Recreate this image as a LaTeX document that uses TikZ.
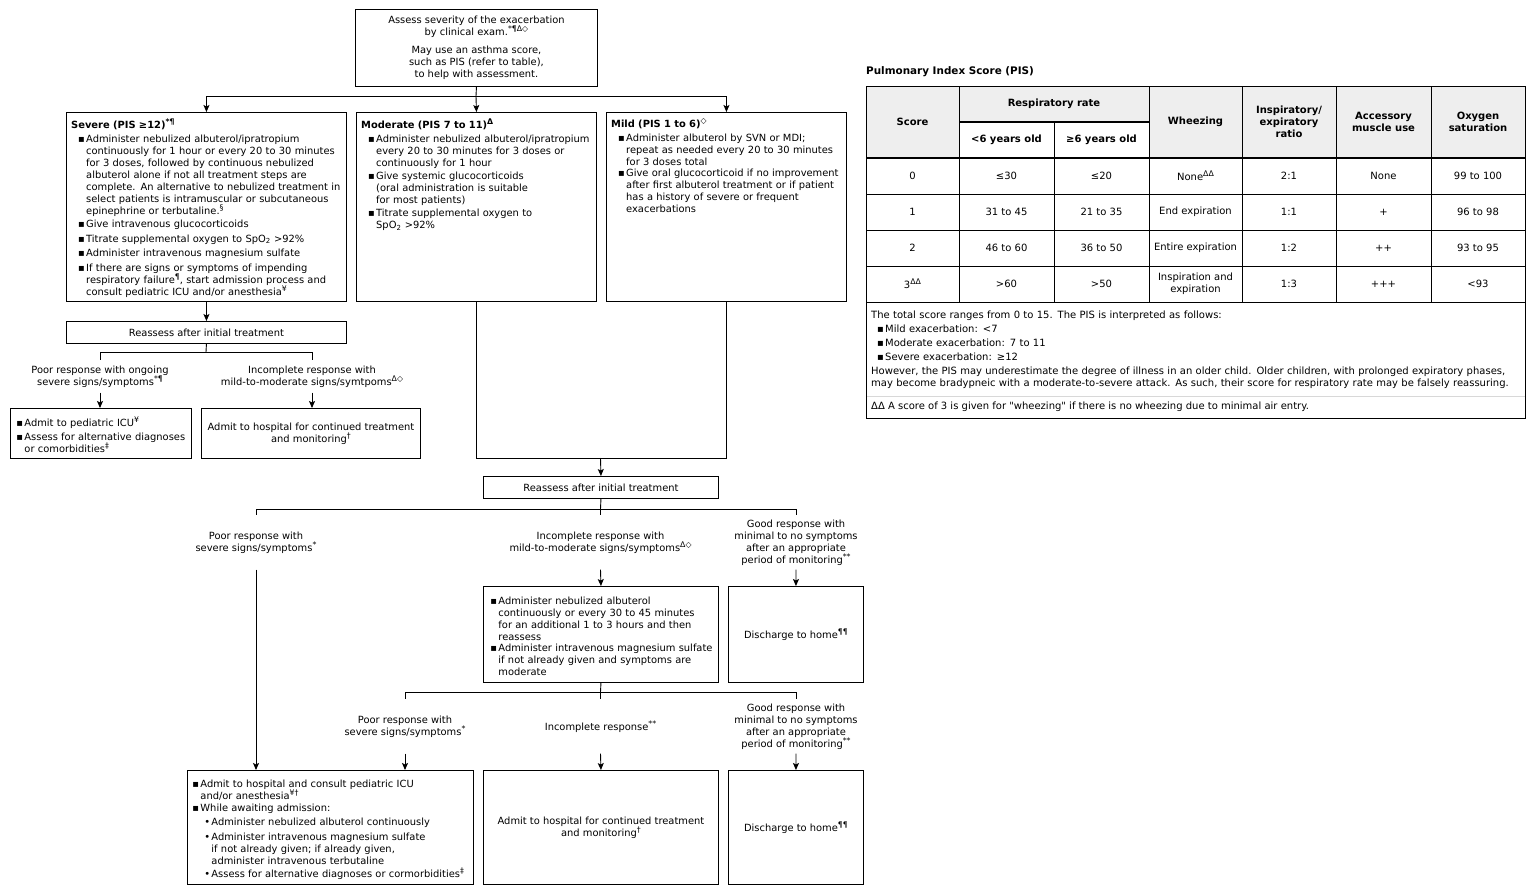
\documentclass[tikz,border=0pt]{standalone}
\usepackage{fontspec}
\setmainfont{DejaVu Sans}[Ligatures=TeXOff]
\usetikzlibrary{arrows.meta}
\newcommand{\sps}[1]{\raisebox{0.4em}{\fontsize{7.8}{7.8}\selectfont #1}}
\newcommand{\fs}{\fontsize{9.9}{12}\selectfont}
\newcommand{\ft}{\fontsize{10}{12}\selectfont}
\newcommand{\ftb}{\fontsize{10}{12}\selectfont\bfseries}
\newlength{\itgap}\setlength{\itgap}{2.5pt}
\newcommand{\bsq}{▪}
\newcommand{\bi}[2][0pt]{\par\noindent\hspace*{#1}\makebox[8pt][l]{\bsq}\parbox[t]{\dimexpr\linewidth-#1-8pt\relax}{\raggedright #2}\par\vspace{\itgap}}
\newcommand{\si}[1]{\par\noindent\hspace*{12pt}\makebox[7pt][l]{•}\parbox[t]{\dimexpr\linewidth-19pt\relax}{\raggedright #1}\par\vspace{\itgap}}
\definecolor{hdr}{HTML}{EEEEEE}
\definecolor{sep}{HTML}{D8D8D8}
\begin{document}
\begin{tikzpicture}[x=1pt,y=-1pt,
  every node/.style={font=\fs},
  bx/.style={draw, line width=0.9pt, inner sep=0pt},
  cbox/.style={bx, align=center, anchor=north west},
  lbox/.style={bx, inner xsep=6pt, align=left, anchor=north west},
  ebox/.style={bx, anchor=north west},
  txt/.style={inner sep=0pt, anchor=north west, align=left},
  lbl/.style={align=center, inner sep=0pt},
  ln/.style={line width=0.9pt},
  arr/.style={ln, -{Stealth[length=7pt,width=6pt,inset=1.5pt]}},
  cell/.style={inner sep=0pt, align=center, font=\ft},
  hcell/.style={inner sep=0pt, align=center, font=\ftb}]
\fill[white] (0,0) rectangle (1536,895);
\useasboundingbox (0,0) rectangle (1536,895);

% ---------- top box ----------
\node[cbox, minimum width=242pt, minimum height=77pt] (top) at (355,9)
 {Assess severity of the exacerbation\\by clinical exam.\sps{*¶Δ◇}\\[6pt]May use an asthma score,\\such as PIS (refer to table),\\to help with assessment.};

% ---------- severity boxes ----------
\node[ebox, minimum width=280pt, minimum height=189pt] (sev) at (66,112) {};
\node[txt, text width=272pt] (sevt) at (71,118.5) {\textbf{Severe (PIS ≥12)\sps{*¶}}\par\vspace{2pt}
\bi[7pt]{Administer nebulized albuterol/ipratropium\\continuously for 1 hour or every 20 to 30 minutes\\for 3 doses, followed by continuous nebulized\\albuterol alone if not all treatment steps are\\complete. An alternative to nebulized treatment in\\select patients is intramuscular or subcutaneous\\epinephrine or terbutaline.\sps{§}}
\bi[7pt]{Give intravenous glucocorticoids}
\bi[7pt]{Titrate supplemental oxygen to SpO\textsubscript{2} >92\%}
\bi[7pt]{Administer intravenous magnesium sulfate}
\bi[7pt]{If there are signs or symptoms of impending\\respiratory failure\sps{¶}, start admission process and\\consult pediatric ICU and/or anesthesia\sps{¥}}};

\node[ebox, minimum width=240pt, minimum height=189pt] (mod) at (356,112) {};
\node[txt, text width=234pt] (modt) at (361,118.5) {\textbf{Moderate (PIS 7 to 11)\sps{Δ}}\par\vspace{2pt}
\bi[7pt]{Administer nebulized albuterol/ipratropium\\every 20 to 30 minutes for 3 doses or\\continuously for 1 hour}
\bi[7pt]{Give systemic glucocorticoids\\(oral administration is suitable\\for most patients)}
\bi[7pt]{Titrate supplemental oxygen to\\SpO\textsubscript{2} >92\%}};

\node[ebox, minimum width=240pt, minimum height=189pt] (mild) at (606,112) {};
\node[txt, text width=234pt] (mildt) at (611,118.5) {\textbf{Mild (PIS 1 to 6)\sps{◇}}\par\vspace{2pt}
\bi[7pt]{Administer albuterol by SVN or MDI;\\repeat as needed every 20 to 30 minutes\\for 3 doses total}
\bi[7pt]{Give oral glucocorticoid if no improvement\\after first albuterol treatment or if patient\\has a history of severe or frequent\\exacerbations}};

\coordinate (j1) at (476,96);
\draw[ln] (top.south) -- (j1);
\draw[ln] (sev.north |- j1) -- (mild.north |- j1);
\draw[arr] (sev.north |- j1) -- (sev.north);
\draw[arr] (j1) -- (mod.north);
\draw[arr] (mild.north |- j1) -- (mild.north);

% ---------- severe branch ----------
\node[cbox, minimum width=280pt, minimum height=22pt] (re1) at (66,321) {Reassess after initial treatment};
\draw[arr] (sev.south) -- (re1.north);
\coordinate (j2) at (206,352);
\node[lbl, minimum height=32pt] (l1) at (100,376.5) {Poor response with ongoing\\severe signs/symptoms\sps{*¶}};
\node[lbl, minimum height=32pt] (l2) at (312,376.5) {Incomplete response with\\mild-to-moderate signs/symtpoms\sps{Δ◇}};
\draw[ln] (re1.south) -- (j2);
\draw[ln] (l1.north |- j2) -- (l2.north |- j2);
\draw[ln] (l1.north |- j2) -- (l1.north);
\draw[ln] (l2.north |- j2) -- (l2.north);
\node[lbox, text width=169pt, minimum height=50pt] (b1) at (10,408)
 {\bi{Admit to pediatric ICU\sps{¥}}\bi{Assess for alternative diagnoses\\or comorbidities\sps{‡}}};
\node[cbox, minimum width=219pt, minimum height=50pt] (b2) at (201,408) {Admit to hospital for continued treatment\\and monitoring\sps{†}};
\draw[arr] (l1.south) -- (l1.south |- b1.north);
\draw[arr] (l2.south) -- (l2.south |- b2.north);

% ---------- moderate / mild branch ----------
\node[cbox, minimum width=235pt, minimum height=22pt] (re2) at (483,476) {Reassess after initial treatment};
\coordinate (j3) at (600.5,458);
\draw[ln] (mod.south) |- (j3);
\draw[ln] (mild.south) |- (j3);
\draw[arr] (j3) -- (re2.north);
\coordinate (j4) at (600.5,509);
\draw[ln] (re2.south) -- (j4);
\node[lbl, minimum height=54pt] (l3) at (256,542.5) {Poor response with\\severe signs/symptoms\sps{*}};
\node[lbl, minimum height=54pt] (l4) at (600.5,542.5) {Incomplete response with\\mild-to-moderate signs/symptoms\sps{Δ◇}};
\node[lbl, minimum height=54pt] (l5) at (796,542.5) {Good response with\\minimal to no symptoms\\after an appropriate\\period of monitoring\sps{**}};
\draw[ln] (l3.north |- j4) -- (l5.north |- j4);
\draw[ln] (l3.north |- j4) -- (l3.north);
\draw[ln] (l4.north |- j4) -- (l4.north);
\draw[ln] (l5.north |- j4) -- (l5.north);

\node[lbox, inner xsep=5pt, text width=225pt, minimum height=96pt] (b3) at (483,586)
 {\bi[2pt]{Administer nebulized albuterol\\continuously or every 30 to 45 minutes\\for an additional 1 to 3 hours and then\\reassess}\bi[2pt]{Administer intravenous magnesium sulfate\\if not already given and symptoms are\\moderate}};
\node[cbox, minimum width=135pt, minimum height=96pt] (b4) at (728,586) {Discharge to home\sps{¶¶}};
\draw[arr] (l4.south) -- (b3.north);
\draw[arr] (l5.south) -- (b4.north);

\coordinate (j5) at (600.5,692);
\draw[ln] (b3.south) -- (j5);
\node[lbl, minimum height=54pt] (l6) at (405,726.5) {Poor response with\\severe signs/symptoms\sps{*}};
\node[lbl, minimum height=54pt] (l7) at (600.5,726.5) {Incomplete response\sps{**}};
\node[lbl, minimum height=54pt] (l8) at (796,726.5) {Good response with\\minimal to no symptoms\\after an appropriate\\period of monitoring\sps{**}};
\draw[ln] (l6.north |- j5) -- (l8.north |- j5);
\draw[ln] (l6.north |- j5) -- (l6.north);
\draw[ln] (l7.north |- j5) -- (l7.north);
\draw[ln] (l8.north |- j5) -- (l8.north);

\node[lbox, inner xsep=5pt, text width=276pt, minimum height=114pt] (b5) at (187,770)
 {\bi{Admit to hospital and consult pediatric ICU\\and/or anesthesia\sps{¥†}}\bi{While awaiting admission:}\si{Administer nebulized albuterol continuously}\si{Administer intravenous magnesium sulfate\\if not already given; if already given,\\administer intravenous terbutaline}\si{Assess for alternative diagnoses or cormorbidities\sps{‡}}};
\node[cbox, minimum width=235pt, minimum height=114pt] (b6) at (483,770) {Admit to hospital for continued treatment\\and monitoring\sps{†}};
\node[cbox, minimum width=135pt, minimum height=114pt] (b7) at (728,770) {Discharge to home\sps{¶¶}};
\draw[arr] (l3.south) -- (l3.south |- b5.north);
\draw[arr] (l6.south) -- (l6.south |- b5.north);
\draw[arr] (l7.south) -- (b6.north);
\draw[arr] (l8.south) -- (b7.north);

% ---------- PIS table ----------
\node[anchor=west, inner sep=0pt, font=\fontsize{10.4}{12}\selectfont\bfseries] (ttl) at (866,72) {Pulmonary Index Score (PIS)};
\fill[hdr] (866,86) rectangle (1525,158);
\fill[white] (959,122) rectangle (1149,158);
\foreach \yy in {194,230,266,302} \draw[line width=0.8pt] (866,\yy) -- (1525,\yy);
\foreach \xx in {959,1149,1242,1336,1431} \draw[line width=0.8pt] (\xx,86) -- (\xx,302);
\draw[line width=0.8pt] (1054,122) -- (1054,302);
\draw[line width=2.4pt] (959,122) -- (1149,122);
\draw[line width=2.4pt] (866,158) -- (1525,158);
\draw[sep, line width=0.8pt] (866,396) -- (1525,396);
\draw[line width=0.9pt] (866,86) rectangle (1525,418);

\node[hcell] (h0) at (912.5,122) {Score};
\node[hcell] (h1) at (1054,104) {Respiratory rate};
\node[hcell] (h1a) at (1006.5,140) {<6 years old};
\node[hcell] (h1b) at (1101.5,140) {≥6 years old};
\node[hcell] (h2) at (1195.5,122) {Wheezing};
\node[hcell] (h3) at (1289,122) {Inspiratory/\\expiratory\\ratio};
\node[hcell] (h4) at (1383.5,122) {Accessory\\muscle use};
\node[hcell] (h5) at (1478,122) {Oxygen\\saturation};

\node[cell] (a0) at (912.5,176) {0};
\node[cell] (a1) at (1006.5,176) {≤30};
\node[cell] (a2) at (1101.5,176) {≤20};
\node[cell] (a3) at (1195.5,176) {None\sps{ΔΔ}};
\node[cell] (a4) at (1289,176) {2:1};
\node[cell] (a5) at (1383.5,176) {None};
\node[cell] (a6) at (1478,176) {99 to 100};

\node[cell] (b0x) at (912.5,212) {1};
\node[cell] (b1x) at (1006.5,212) {31 to 45};
\node[cell] (b2x) at (1101.5,212) {21 to 35};
\node[cell] (b3x) at (1195.5,212) {End expiration};
\node[cell] (b4x) at (1289,212) {1:1};
\node[cell] (b5x) at (1383.5,212) {+};
\node[cell] (b6x) at (1478,212) {96 to 98};

\node[cell] (c0) at (912.5,248) {2};
\node[cell] (c1) at (1006.5,248) {46 to 60};
\node[cell] (c2) at (1101.5,248) {36 to 50};
\node[cell] (c3) at (1195.5,248) {Entire expiration};
\node[cell] (c4) at (1289,248) {1:2};
\node[cell] (c5) at (1383.5,248) {++};
\node[cell] (c6) at (1478,248) {93 to 95};

\node[cell] (d0) at (912.5,284) {3\sps{ΔΔ}};
\node[cell] (d1) at (1006.5,284) {>60};
\node[cell] (d2) at (1101.5,284) {>50};
\node[cell] (d3) at (1195.5,284) {Inspiration and\\expiration};
\node[cell] (d4) at (1289,284) {1:3};
\node[cell] (d5) at (1383.5,284) {+++};
\node[cell] (d6) at (1478,284) {<93};

\node[txt, text width=652pt, font=\ft] (notes) at (871,311) {\setlength{\itgap}{2pt}The total score ranges from 0 to 15. The PIS is interpreted as follows:\par\vspace{2pt}
\bi[6pt]{Mild exacerbation: <7}\bi[6pt]{Moderate exacerbation: 7 to 11}\bi[6pt]{Severe exacerbation: ≥12}
\noindent However, the PIS may underestimate the degree of illness in an older child. Older children, with prolonged expiratory phases,\\may become bradypneic with a moderate-to-severe attack. As such, their score for respiratory rate may be falsely reassuring.};
\node[anchor=west, inner sep=0pt, font=\ft] (fn) at (871,407) {ΔΔ A score of 3 is given for "wheezing" if there is no wheezing due to minimal air entry.};
\end{tikzpicture}
\end{document}
